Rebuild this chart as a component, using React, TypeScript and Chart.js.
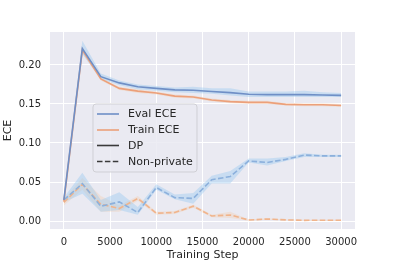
import React, { useEffect, useRef } from "react";
import { Chart, registerables } from "chart.js";

Chart.register(...registerables);

const steps = [0, 2000, 4000, 6000, 8000, 10000, 12000, 14000, 16000, 18000, 20000, 22000, 24000, 26000, 28000, 30000];

const evalDP = [0.027, 0.221, 0.185, 0.177, 0.172, 0.170, 0.168, 0.1675, 0.166, 0.1645, 0.1625, 0.162, 0.162, 0.162, 0.1615, 0.161];
const evalDPLow = [0.025, 0.214, 0.182, 0.174, 0.169, 0.167, 0.165, 0.164, 0.163, 0.161, 0.159, 0.159, 0.159, 0.159, 0.159, 0.159];
const evalDPHigh = [0.029, 0.231, 0.189, 0.180, 0.175, 0.173, 0.171, 0.172, 0.170, 0.170, 0.166, 0.166, 0.166, 0.167, 0.165, 0.164];

const trainDP = [0.025, 0.219, 0.182, 0.170, 0.1665, 0.164, 0.160, 0.159, 0.155, 0.153, 0.152, 0.152, 0.1495, 0.149, 0.149, 0.148];
const trainDPLow = [0.023, 0.215, 0.180, 0.168, 0.164, 0.162, 0.158, 0.157, 0.153, 0.151, 0.150, 0.150, 0.148, 0.147, 0.147, 0.146];
const trainDPHigh = [0.027, 0.223, 0.184, 0.172, 0.169, 0.166, 0.162, 0.161, 0.157, 0.155, 0.154, 0.154, 0.151, 0.151, 0.151, 0.150];

const evalNP = [0.027, 0.048, 0.019, 0.0245, 0.011, 0.043, 0.030, 0.029, 0.053, 0.057, 0.077, 0.075, 0.079, 0.0845, 0.0835, 0.0835];
const evalNPLow = [0.024, 0.035, 0.012, 0.014, 0.008, 0.040, 0.028, 0.022, 0.048, 0.048, 0.075, 0.071, 0.077, 0.082, 0.082, 0.082];
const evalNPHigh = [0.030, 0.062, 0.027, 0.037, 0.018, 0.047, 0.034, 0.036, 0.058, 0.064, 0.080, 0.080, 0.082, 0.087, 0.085, 0.085];

const trainNP = [0.024, 0.047, 0.0215, 0.016, 0.029, 0.010, 0.011, 0.019, 0.0065, 0.0078, 0.0013, 0.0026, 0.0015, 0.0009, 0.001, 0.001];
const trainNPLow = [0.020, 0.040, 0.012, 0.012, 0.026, 0.008, 0.009, 0.017, 0.005, 0.004, 0.0005, 0.0015, 0.001, 0.0005, 0.0005, 0.0005];
const trainNPHigh = [0.028, 0.055, 0.032, 0.020, 0.032, 0.012, 0.013, 0.021, 0.008, 0.012, 0.002, 0.0035, 0.002, 0.0015, 0.0015, 0.0015];

const xTicks = [0, 5000, 10000, 15000, 20000, 25000, 30000];
const yTicks = [0, 0.05, 0.1, 0.15, 0.2];
const legendLabels = ["Eval ECE", "Train ECE", "DP", "Non-private"];

const FONT = "'DejaVu Sans', sans-serif";
const BLUE = "#6f8fc6";
const BLUE_D = "#8cb0dc";
const ORANGE = "#eca07a";
const ORANGE_D = "#f0b48c";
const BLUE_BAND = "rgba(150,200,240,0.4)";
const ORANGE_BAND = "rgba(245,200,160,0.3)";
const DASH = [5.5, 2.4];

const pts = (ys: number[]) => steps.map((x, i) => ({ x, y: ys[i] }));

const bgPlugin = {
  id: "bg",
  beforeDraw(chart: any) {
    const { ctx, chartArea } = chart;
    ctx.save();
    ctx.fillStyle = "#eaeaf2";
    ctx.fillRect(chartArea.left, chartArea.top, chartArea.right - chartArea.left, chartArea.bottom - chartArea.top);
    ctx.restore();
  },
};

const legendPlugin = {
  id: "customLegend",
  afterDraw(chart: any) {
    const ctx = chart.ctx;
    ctx.save();
    const x0 = 93, y0 = 104, w = 104, h = 68, r = 3;
    ctx.beginPath();
    ctx.moveTo(x0 + r, y0);
    ctx.arcTo(x0 + w, y0, x0 + w, y0 + h, r);
    ctx.arcTo(x0 + w, y0 + h, x0, y0 + h, r);
    ctx.arcTo(x0, y0 + h, x0, y0, r);
    ctx.arcTo(x0, y0, x0 + w, y0, r);
    ctx.closePath();
    ctx.fillStyle = "rgba(234,234,242,0.85)";
    ctx.fill();
    ctx.strokeStyle = "rgba(205,205,210,0.9)";
    ctx.lineWidth = 1;
    ctx.stroke();
    const rows = [114, 130, 145.5, 161.5];
    const colors = [BLUE, ORANGE, "#3a3a3a", "#3a3a3a"];
    const dashes = [[], [], [], DASH];
    legendLabels.forEach((lab, i) => {
      ctx.beginPath();
      ctx.setLineDash(dashes[i]);
      ctx.strokeStyle = colors[i];
      ctx.lineWidth = 1.6;
      ctx.moveTo(97, rows[i]);
      ctx.lineTo(119, rows[i]);
      ctx.stroke();
      ctx.setLineDash([]);
      ctx.fillStyle = "#262626";
      ctx.font = `11px ${FONT}`;
      ctx.textBaseline = "middle";
      ctx.textAlign = "left";
      ctx.fillText(lab, 128, rows[i] + 0.5);
    });
    ctx.restore();
  },
};

export default function App() {
  const ref = useRef<HTMLCanvasElement>(null);
  useEffect(() => {
    document.body.style.margin = "0";
    if (!ref.current) return;
    const band = (ys: number[], color: string, fillTarget: number | false) => ({
      data: pts(ys),
      borderWidth: 0,
      pointRadius: 0,
      backgroundColor: color,
      fill: fillTarget === false ? false : fillTarget,
      order: 10,
      tension: 0,
    });
    const line = (ys: number[], color: string, dashed: boolean) => ({
      data: pts(ys),
      borderColor: color,
      borderWidth: 1.6,
      borderDash: dashed ? DASH : [],
      pointRadius: 0,
      fill: false,
      order: 1,
      tension: 0,
    });
    const chart = new Chart(ref.current, {
      type: "line",
      data: {
        datasets: [
          band(evalDPLow, BLUE_BAND, false) as any,
          band(evalDPHigh, BLUE_BAND, 0),
          band(trainDPLow, ORANGE_BAND, false),
          band(trainDPHigh, ORANGE_BAND, 2),
          band(evalNPLow, BLUE_BAND, false),
          band(evalNPHigh, BLUE_BAND, 4),
          band(trainNPLow, ORANGE_BAND, false),
          band(trainNPHigh, ORANGE_BAND, 6),
          line(evalDP, BLUE, false),
          line(trainDP, ORANGE, false),
          line(evalNP, BLUE_D, true),
          line(trainNP, ORANGE_D, true),
        ],
      },
      options: {
        responsive: false,
        animation: false,
        layout: { padding: { top: 32, right: 40, left: 0, bottom: 0 } },
        plugins: { legend: { display: false }, tooltip: { enabled: false } },
        scales: {
          x: {
            type: "linear",
            min: -1500,
            max: 31500,
            afterFit(scale: any) { scale.height = 34; },
            afterBuildTicks(scale: any) { scale.ticks = xTicks.map((v) => ({ value: v })); },
            grid: { color: "#ffffff", lineWidth: 1, drawTicks: false },
            border: { display: false },
            ticks: {
              padding: 7,
              color: "#262626",
              font: { family: FONT, size: 10 },
              maxRotation: 0,
              callback: (v: any) => String(v),
            },
            title: {
              display: true,
              text: "Training Step",
              color: "#262626",
              font: { family: FONT, size: 11 },
              padding: { top: 0, bottom: 1 },
            },
          },
          y: {
            type: "linear",
            min: -0.0102,
            max: 0.2422,
            afterFit(scale: any) { scale.width = 50; },
            afterBuildTicks(scale: any) { scale.ticks = yTicks.map((v) => ({ value: v })); },
            grid: { color: "#ffffff", lineWidth: 1, drawTicks: false },
            border: { display: false },
            ticks: {
              padding: 9,
              color: "#262626",
              font: { family: FONT, size: 10 },
              callback: (v: any) => Number(v).toFixed(2),
            },
            title: {
              display: true,
              text: "ECE",
              color: "#262626",
              font: { family: FONT, size: 11 },
              padding: { top: 2, bottom: 0 },
            },
          },
        },
      },
      plugins: [bgPlugin, legendPlugin],
    });
    return () => chart.destroy();
  }, []);
  return <canvas ref={ref} width={395} height={263} style={{ display: "block" }} />;
}
